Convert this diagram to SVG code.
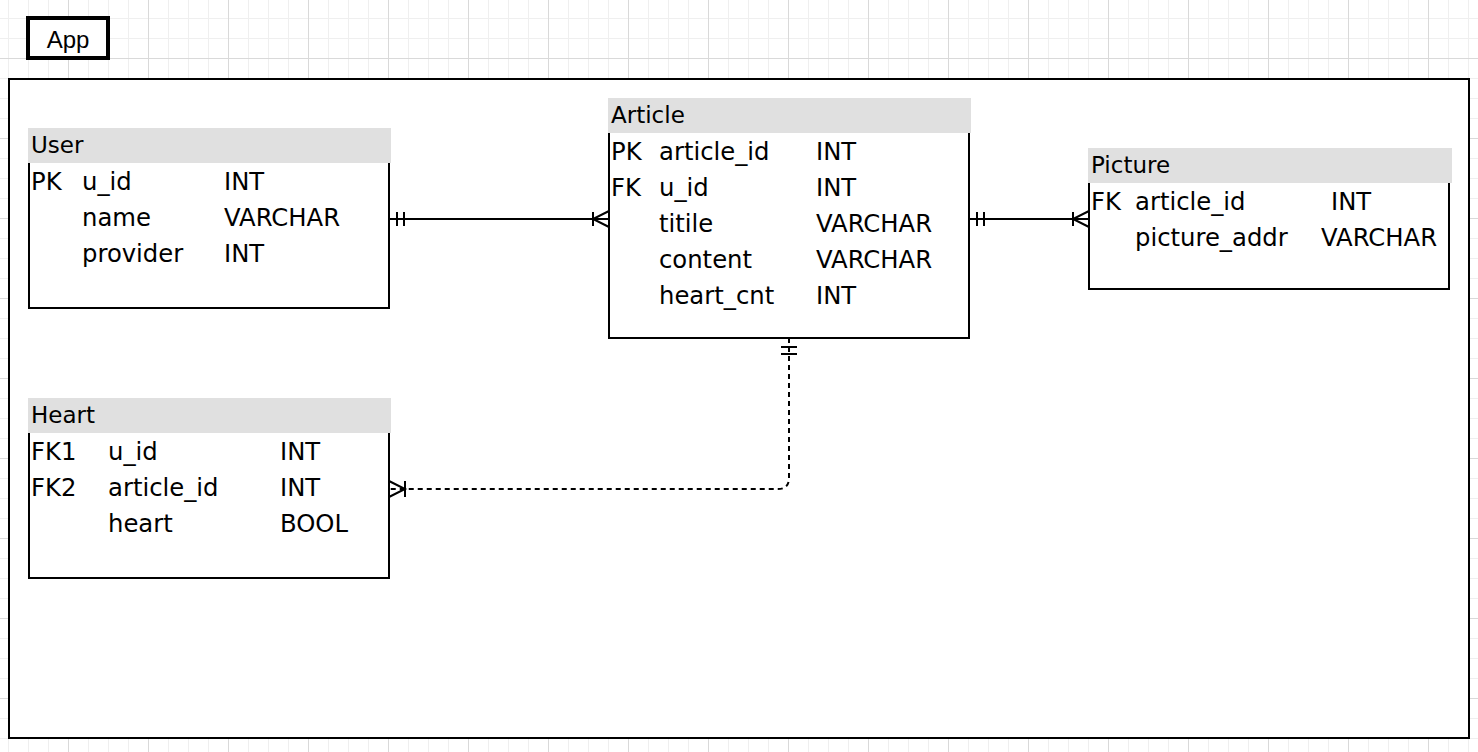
<svg xmlns="http://www.w3.org/2000/svg" width="1478" height="752" viewBox="0 0 1478 752">
<defs>
<pattern id="grid" x="68" y="58" width="80" height="80" patternUnits="userSpaceOnUse">
<rect x="20" y="0" width="1" height="80" fill="#efefef"/>
<rect x="40" y="0" width="1" height="80" fill="#efefef"/>
<rect x="60" y="0" width="1" height="80" fill="#efefef"/>
<rect x="0" y="20" width="80" height="1" fill="#efefef"/>
<rect x="0" y="40" width="80" height="1" fill="#efefef"/>
<rect x="0" y="60" width="80" height="1" fill="#efefef"/>
<rect x="0" y="0" width="1" height="80" fill="#d9d9d9"/>
<rect x="0" y="0" width="80" height="1" fill="#d9d9d9"/>
</pattern>
</defs>
<style>
.hdr{fill:#e0e0e0;stroke:none}
.body{fill:#ffffff;stroke:#000;stroke-width:2}
.title{font-family:"DejaVu Sans",Verdana,sans-serif;font-size:23px;fill:#000}
.row{font-family:"DejaVu Sans",Verdana,sans-serif;font-size:24.3px;fill:#000}
.ln{fill:none;stroke:#000;stroke-width:2}
.dash{fill:none;stroke:#000;stroke-width:2;stroke-dasharray:5 4}
</style>
<rect width="1478" height="752" fill="#ffffff"/>
<rect width="1478" height="752" fill="url(#grid)"/>

<g id="app-label">
<rect x="28" y="18" width="80" height="40" fill="#ffffff" stroke="#000" stroke-width="4"/>
<text x="68" y="48" text-anchor="middle" font-family="'Liberation Sans',Arial,sans-serif" font-size="24">App</text>
</g>

<g id="app-container">
<rect x="9" y="79" width="1460" height="659" fill="#ffffff" stroke="#000" stroke-width="2"/>
</g>

<g id="user">
<rect class="hdr" x="28" y="128" width="363" height="35"/>
<path class="body" d="M29 163 V308 H389 V163"/>
<text class="title" x="31" y="153">User</text>
<text class="row" x="31" y="190">PK</text><text class="row" x="82" y="190">u_id</text><text class="row" x="224" y="190">INT</text>
<text class="row" x="82" y="226">name</text><text class="row" x="224" y="226">VARCHAR</text>
<text class="row" x="82" y="262">provider</text><text class="row" x="224" y="262">INT</text>
</g>

<g id="article">
<rect class="hdr" x="608" y="98" width="363" height="35"/>
<path class="body" d="M609 133 V338 H969 V133"/>
<text class="title" x="611" y="123">Article</text>
<text class="row" x="611" y="160">PK</text><text class="row" x="659" y="160">article_id</text><text class="row" x="816" y="160">INT</text>
<text class="row" x="611" y="196">FK</text><text class="row" x="659" y="196">u_id</text><text class="row" x="816" y="196">INT</text>
<text class="row" x="659" y="232">titile</text><text class="row" x="816" y="232">VARCHAR</text>
<text class="row" x="659" y="268">content</text><text class="row" x="816" y="268">VARCHAR</text>
<text class="row" x="659" y="304">heart_cnt</text><text class="row" x="816" y="304">INT</text>
</g>

<g id="picture">
<rect class="hdr" x="1088" y="148" width="364" height="35"/>
<path class="body" d="M1089 183 V289 H1449 V183"/>
<text class="title" x="1091" y="173">Picture</text>
<text class="row" x="1091" y="210">FK</text><text class="row" x="1135" y="210">article_id</text><text class="row" x="1331" y="210">INT</text>
<text class="row" x="1135" y="246">picture_addr</text><text class="row" x="1321" y="246">VARCHAR</text>
</g>

<g id="heart">
<rect class="hdr" x="28" y="398" width="363" height="35"/>
<path class="body" d="M29 433 V578 H389 V433"/>
<text class="title" x="31" y="423">Heart</text>
<text class="row" x="31" y="460">FK1</text><text class="row" x="108" y="460">u_id</text><text class="row" x="280" y="460">INT</text>
<text class="row" x="31" y="496">FK2</text><text class="row" x="108" y="496">article_id</text><text class="row" x="280" y="496">INT</text>
<text class="row" x="108" y="532">heart</text><text class="row" x="280" y="532">BOOL</text>
</g>

<g id="connectors">
<g id="user-article">
<path class="ln" d="M389 219 H609"/>
<path class="ln" d="M397 212 V226 M404 212 V226"/>
<path class="ln" d="M593 212 V226 M609 211 L593 219 L609 227"/>
</g>
<g id="article-picture">
<path class="ln" d="M969 219 H1089"/>
<path class="ln" d="M977 212 V226 M984 212 V226"/>
<path class="ln" d="M1073 212 V226 M1089 211 L1073 219 L1089 227"/>
</g>
<g id="article-heart">
<path class="dash" d="M789 338 V478 Q789 489 778 489 H389"/>
<path class="ln" d="M781 347 H797 M781 354 H797"/>
<path class="ln" d="M405 481 V497 M389 481 L405 489 L389 497"/>
</g>
</g>
</svg>
